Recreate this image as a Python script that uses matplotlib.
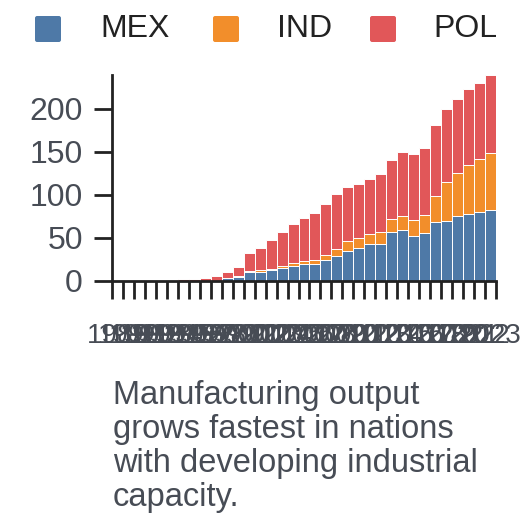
import numpy as np
import matplotlib
matplotlib.use("Agg")
import matplotlib.pyplot as plt
from matplotlib.patches import FancyBboxPatch

plt.rcParams['font.family'] = ['Liberation Sans', 'DejaVu Sans']

# data
years = list(range(1989, 2024))
mex = [0, 0, 0, 0, 0, 0, 0, 0, 0, 0.3, 3.1, 5.0, 10.0, 10.9, 12.4, 15.5, 17.9, 19.4,
       20.2, 24.9, 29.5, 35.4, 38.0, 42.7, 43.1, 56.4, 58.7, 52.0, 55.6, 68.8, 70.3,
       75.4, 77.7, 80.4, 82.0]
ind = [0, 0, 0, 0, 0, 0, 0, 0, 0, 0, 0.4, 0.5, 1.3, 1.5, 1.6, 2.0, 2.7, 3.6,
       4.3, 5.4, 7.4, 10.8, 12.0, 12.1, 14.0, 15.5, 17.1, 18.7, 20.6, 30.3, 45.1,
       49.7, 57.5, 61.5, 66.9]
pol = [1.2, 1.2, 1.2, 1.3, 1.4, 1.6, 1.9, 2.4, 3.6, 5.5, 7.4, 10.4, 21.7, 25.6, 33.4,
       40.0, 45.4, 49.7, 54.0, 59.7, 63.8, 62.8, 63.0, 64.2, 67.7, 69.1, 74.6, 77.0,
       78.8, 81.9, 84.4, 86.9, 88.3, 88.1, 90.5]
series = ['MEX', 'IND', 'POL']
colors = ['#4e79a7', '#f28e2b', '#e15759']
caption = "Manufacturing output\ngrows fastest in nations\nwith developing industrial\ncapacity."

W = 528
fig = plt.figure(figsize=(5.28, 5.28), dpi=100)
ax = fig.add_axes([112 / W, 1 - 281 / W, (496 - 112) / W, (281 - 75) / W])

x = np.arange(len(years))
bottom = np.zeros(len(years))
for vals, col in zip([mex, ind, pol], colors):
    vals = np.array(vals)
    ax.bar(x, vals, width=1.0, bottom=bottom, color=col, edgecolor='white',
           linewidth=0.7, zorder=2)
    bottom += vals

ax.set_xlim(-0.5, len(years) - 0.5)
ax.set_ylim(0, bottom.max())
ax.set_yticks([0, 50, 100, 150, 200])

# ticks at band edges, labels at band centres
ax.set_xticks(np.arange(len(years) + 1) - 0.5)
ax.set_xticklabels([])
ax.set_xticks(x, minor=True)
ax.set_xticklabels([str(y) for y in years], minor=True)

for s in ['top', 'right']:
    ax.spines[s].set_visible(False)
for s in ['left', 'bottom']:
    ax.spines[s].set_linewidth(2.0)
    ax.spines[s].set_color('#222222')

ax.tick_params(axis='both', which='major', length=13, width=2.0, color='#222222')
ax.tick_params(axis='y', labelsize=23, labelcolor='#474c55', pad=8)
ax.tick_params(axis='x', which='minor', length=0, labelsize=20,
               labelcolor='#474c55', pad=30)

# legend across the top
leg_x = [35, 213, 370]
txt_x = [100, 277, 433]
for name, col, lx, tx in zip(series, colors, leg_x, txt_x):
    fig.add_artist(FancyBboxPatch((lx / W, 1 - 42 / W), 26 / W, 26 / W,
                                  boxstyle='round,pad=0,rounding_size=0.004',
                                  transform=fig.transFigure, facecolor=col,
                                  edgecolor='none'))
    fig.text(tx / W, 1 - 29 / W, name, fontsize=23, color='#222222',
             ha='left', va='center')

fig.text(113 / W, 1 - 380 / W, caption, fontsize=23.5, color='#474c55',
         ha='left', va='top', linespacing=1.12)

fig.savefig('out.png', dpi=100)
